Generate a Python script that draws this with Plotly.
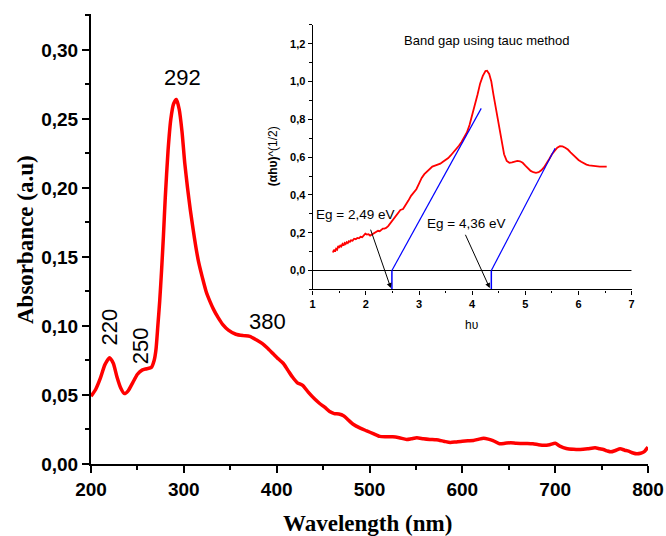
import plotly.graph_objects as go

# ---- main spectrum ----
wavelength = [200, 205, 210, 215, 220, 224, 228, 232, 236, 240, 245, 250, 255, 260, 265, 268, 270, 272,
              274, 276, 278, 280, 283, 286, 289, 292, 295, 298, 301, 304, 307, 310, 313, 316, 320, 324,
              328, 332, 337, 342, 348, 356, 364, 371, 378, 385, 390, 396, 402, 407, 412, 417, 422, 428, 434,
              441, 446, 452, 457, 462, 467, 472, 477, 482, 490, 497, 504, 511, 518, 525, 532, 540, 545,
              551, 558, 565, 572, 580, 587, 593, 600, 606, 612, 618, 623, 628, 633, 640, 646, 652, 658,
              664, 670, 676, 682, 688, 694, 700, 705, 712, 720, 727, 735, 743, 748, 752, 756, 760, 765,
              770, 775, 779, 784, 788, 792, 796, 800]
absorbance = [0.049, 0.054, 0.062, 0.072, 0.077, 0.073, 0.063, 0.055, 0.051, 0.053, 0.059, 0.065, 0.068,
              0.069, 0.070, 0.075, 0.083, 0.100, 0.118, 0.140, 0.165, 0.193, 0.227, 0.250, 0.261, 0.264,
              0.257, 0.241, 0.218, 0.200, 0.184, 0.170, 0.157, 0.146, 0.135, 0.125, 0.118, 0.112, 0.106,
              0.101, 0.097, 0.094, 0.093, 0.0925, 0.090, 0.087, 0.084, 0.080, 0.076, 0.073, 0.068, 0.063,
              0.059, 0.057, 0.052, 0.047, 0.044, 0.041, 0.038, 0.0365, 0.0362, 0.035, 0.032, 0.029, 0.026,
              0.024, 0.022, 0.020, 0.0198, 0.0197, 0.019, 0.0178, 0.0183, 0.019, 0.0183, 0.0178, 0.0175,
              0.0165, 0.0156, 0.016, 0.0165, 0.0168, 0.017, 0.018, 0.0186, 0.018, 0.017, 0.0147, 0.015,
              0.0154, 0.015, 0.0149, 0.0148, 0.0146, 0.014, 0.0136, 0.014, 0.015, 0.013, 0.0112, 0.0106,
              0.0105, 0.011, 0.0117, 0.011, 0.0105, 0.0095, 0.0088, 0.0098, 0.011, 0.010, 0.0093, 0.008,
              0.0074, 0.0078, 0.009, 0.0122]

peak_labels = ["292", "380", "220", "250"]
peak_label_x = [298.7, 390.3, 220, 253.4]
peak_label_y = [0.280, 0.1033, 0.0993, 0.0858]
peak_label_angle = [0, 0, -90, -90]

# ---- inset (Tauc plot) ----
tauc_x = [1.38, 1.40, 1.42, 1.44, 1.46, 1.48, 1.50, 1.52, 1.54, 1.56, 1.58, 1.60, 1.62, 1.64, 1.66, 1.68,
          1.70, 1.72, 1.75, 1.78, 1.81, 1.84, 1.87, 1.90, 1.93, 1.96, 1.99, 2.02, 2.05, 2.08, 2.11, 2.14,
          2.17, 2.20, 2.23, 2.26, 2.29, 2.32, 2.35, 2.38, 2.42, 2.46, 2.50, 2.55, 2.60, 2.65, 2.70, 2.75,
          2.80, 2.85, 2.90, 2.95, 3.00, 3.05, 3.10, 3.15, 3.20, 3.25, 3.30, 3.35, 3.40, 3.45, 3.50, 3.55,
          3.60, 3.65, 3.70, 3.75, 3.80, 3.85, 3.90, 3.95, 4.00, 4.05, 4.10, 4.15, 4.20, 4.25, 4.28, 4.32,
          4.36, 4.40, 4.45, 4.50, 4.55, 4.60, 4.65, 4.70, 4.75, 4.80, 4.85, 4.90, 4.95, 5.00, 5.05, 5.10,
          5.15, 5.20, 5.25, 5.30, 5.35, 5.40, 5.45, 5.50, 5.55, 5.60, 5.65, 5.70, 5.75, 5.80, 5.85, 5.90,
          5.95, 6.00, 6.05, 6.10, 6.15, 6.20, 6.30, 6.40, 6.53]
tauc_y = [0.095, 0.110, 0.100, 0.115, 0.110, 0.130, 0.120, 0.135, 0.128, 0.140, 0.132, 0.145, 0.140,
          0.150, 0.145, 0.155, 0.152, 0.160, 0.158, 0.168, 0.165, 0.172, 0.170, 0.178, 0.176, 0.185,
          0.195, 0.190, 0.192, 0.185, 0.190, 0.197, 0.200, 0.205, 0.210, 0.208, 0.215, 0.222, 0.222,
          0.225, 0.235, 0.250, 0.265, 0.285, 0.305, 0.320, 0.325, 0.345, 0.370, 0.395, 0.415, 0.430,
          0.460, 0.490, 0.510, 0.525, 0.540, 0.550, 0.555, 0.560, 0.565, 0.575, 0.585, 0.595, 0.610,
          0.625, 0.640, 0.660, 0.680, 0.705, 0.730, 0.770, 0.820, 0.870, 0.930, 0.990, 1.030, 1.055,
          1.057, 1.040, 1.000, 0.930, 0.850, 0.760, 0.680, 0.615, 0.580, 0.570, 0.572, 0.578, 0.580,
          0.578, 0.570, 0.555, 0.540, 0.527, 0.520, 0.517, 0.520, 0.530, 0.545, 0.565, 0.590, 0.615,
          0.635, 0.650, 0.658, 0.657, 0.650, 0.640, 0.625, 0.610, 0.597, 0.585, 0.575, 0.567, 0.560,
          0.556, 0.552, 0.550, 0.550]

fit1_x = [2.49, 4.17]
fit1_y = [0.0, 0.858]
fit2_x = [4.36, 5.56]
fit2_y = [0.0, 0.647]
drop_y = [0.0, -0.1]
baseline_x = [1, 7]
baseline_y = [0, 0]

eg_labels = ["Eg = 2,49 eV", "Eg = 4,36 eV"]
eg_label_x = [1.795, 3.876]
eg_label_y = [0.295, 0.247]
eg_arrow_tail_x = [2.08, 3.86]
eg_arrow_tail_y = [0.224, 0.197]
eg_arrow_head_x = [2.47, 4.33]
eg_arrow_head_y = [-0.093, -0.093]

SANS = "Liberation Sans, Arial, sans-serif"
SERIF = "Liberation Serif, Times New Roman, serif"

fig = go.Figure()
fig.add_trace(go.Scatter(x=wavelength, y=absorbance, mode="lines",
                         line=dict(color="#ff0000", width=3.5, shape="spline", smoothing=0.6),
                         xaxis="x", yaxis="y"))
fig.add_trace(go.Scatter(x=baseline_x, y=baseline_y, mode="lines",
                         line=dict(color="black", width=1), xaxis="x2", yaxis="y2"))
fig.add_trace(go.Scatter(x=tauc_x, y=tauc_y, mode="lines",
                         line=dict(color="#ff0000", width=1.8), xaxis="x2", yaxis="y2"))
for fx, fy in [(fit1_x, fit1_y), (fit2_x, fit2_y)]:
    fig.add_trace(go.Scatter(x=fx, y=fy, mode="lines", line=dict(color="#0000ff", width=1.2),
                             xaxis="x2", yaxis="y2"))
    fig.add_trace(go.Scatter(x=[fx[0], fx[0]], y=drop_y, mode="lines",
                             line=dict(color="#0000ff", width=1.5), xaxis="x2", yaxis="y2"))

C = dict(xanchor="center", yanchor="middle")
annotations = []
for t, x, y, a in zip(peak_labels, peak_label_x, peak_label_y, peak_label_angle):
    annotations.append(dict(text=t, x=x, y=y, xref="x", yref="y", showarrow=False, textangle=a,
                            font=dict(family=SANS, size=22, color="black"), **C))
for t, x, y in zip(eg_labels, eg_label_x, eg_label_y):
    annotations.append(dict(text=t, x=x, y=y, xref="x2", yref="y2", showarrow=False,
                            font=dict(family=SANS, size=13.5, color="black"), **C))
for tx, ty, hx, hy in zip(eg_arrow_tail_x, eg_arrow_tail_y, eg_arrow_head_x, eg_arrow_head_y):
    annotations.append(dict(text="", x=hx, y=hy, xref="x2", yref="y2", ax=tx, ay=ty,
                            axref="x2", ayref="y2", showarrow=True, arrowhead=2, arrowsize=1,
                            arrowwidth=1, arrowcolor="black"))
annotations.append(dict(text="Band gap using tauc method", x=4.286, y=1.217, xref="x2", yref="y2",
                        showarrow=False, font=dict(family=SANS, size=13, color="black"), **C))
annotations.append(dict(text="<b>(αhυ)</b>^(1/2)", x=0.3268, y=0.684, xref="paper", yref="paper",
                        showarrow=False, textangle=-90, font=dict(family=SANS, size=12, color="black"), **C))
annotations.append(dict(text="hυ", x=0.6835, y=0.309, xref="paper", yref="paper",
                        showarrow=False, font=dict(family=SANS, size=12, color="black"), **C))
annotations.append(dict(text="<b>Absorbance (a.u)</b>", x=-0.1185, y=0.5, xref="paper", yref="paper",
                        showarrow=False, textangle=-90, font=dict(family=SERIF, size=23, color="black"), **C))
annotations.append(dict(text="<b>Wavelength (nm)</b>", x=0.497, y=-0.133, xref="paper", yref="paper",
                        showarrow=False, font=dict(family=SERIF, size=23, color="black"), **C))

axis_common = dict(showgrid=False, zeroline=False, showline=True, linecolor="black", ticks="outside",
                   tickcolor="black", automargin=False)

fig.update_layout(
    width=666, height=536, autosize=False,
    margin=dict(l=91, r=18, t=14, b=72, autoexpand=False),
    plot_bgcolor="white", paper_bgcolor="white",
    showlegend=False,
    separators=",.",
    annotations=annotations,
    xaxis=dict(**axis_common, range=[200, 800], tickvals=[200, 300, 400, 500, 600, 700, 800],
               linewidth=2, tickwidth=2, ticklen=7,
               minor=dict(tickvals=[250, 350, 450, 550, 650, 750], ticks="outside", ticklen=4,
                          tickwidth=1.5, tickcolor="black"),
               tickfont=dict(family=SANS, size=19, color="black", weight="bold"),
               domain=[0, 1], anchor="y"),
    yaxis=dict(**axis_common, range=[0, 0.326], tickvals=[0, 0.05, 0.10, 0.15, 0.20, 0.25, 0.30],
               tickformat=".2f", linewidth=2, tickwidth=2, ticklen=7,
               minor=dict(tickvals=[0.025, 0.075, 0.125, 0.175, 0.225, 0.275, 0.325], ticks="outside",
                          ticklen=4, tickwidth=1.5, tickcolor="black"),
               tickfont=dict(family=SANS, size=19, color="black", weight="bold"),
               domain=[0, 1], anchor="x"),
    xaxis2=dict(**axis_common, range=[1, 7], tickvals=[1, 2, 3, 4, 5, 6, 7], linewidth=1.2,
                tickwidth=1.2, ticklen=4,
                minor=dict(tickvals=[1.5, 2.5, 3.5, 4.5, 5.5, 6.5], ticks="outside", ticklen=2.5,
                           tickwidth=1, tickcolor="black"),
                tickfont=dict(family=SANS, size=11, color="black", weight="bold"),
                domain=[0.398, 0.9707], anchor="y2"),
    yaxis2=dict(**axis_common, range=[-0.1, 1.3], tickvals=[0, 0.2, 0.4, 0.6, 0.8, 1.0, 1.2],
                tickformat=".1f", linewidth=1.2, tickwidth=1.2, ticklen=4,
                minor=dict(tickvals=[-0.1, 0.1, 0.3, 0.5, 0.7, 0.9, 1.1, 1.3], ticks="outside",
                           ticklen=2.5, tickwidth=1, tickcolor="black"),
                tickfont=dict(family=SANS, size=11, color="black", weight="bold"),
                domain=[0.388, 0.976], anchor="x2"),
)

# remove the browser's default 8px body margin so the 666x536 figure fills the window exactly
fig.write_html("out.html", config={"displayModeBar": False, "responsive": False},
               post_script="document.body.style.margin='0px';")
